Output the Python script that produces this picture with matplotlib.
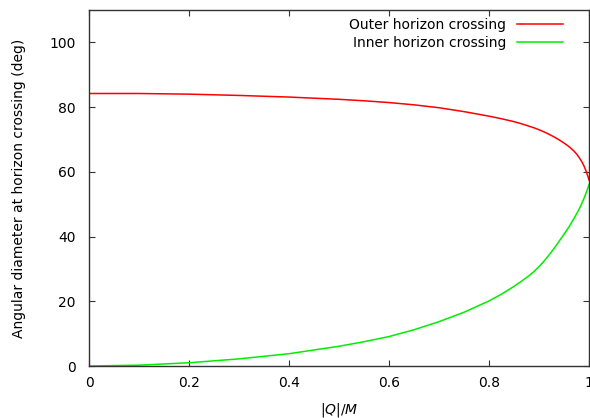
import matplotlib
matplotlib.use('Agg')
import matplotlib.pyplot as plt

# Data
q_outer = [0.0, 0.1, 0.2, 0.3, 0.4, 0.5, 0.55, 0.6, 0.65, 0.7, 0.75, 0.8, 0.825,
           0.85, 0.865, 0.88, 0.89, 0.9, 0.91, 0.92, 0.93, 0.94, 0.95, 0.96,
           0.97, 0.975, 0.98, 0.985, 0.99, 0.995, 0.998, 1.0]
deg_outer = [84.2, 84.2, 84.0, 83.6, 83.1, 82.4, 81.95, 81.4, 80.7, 79.8, 78.6, 77.2, 76.4,
             75.5, 74.85, 74.1, 73.6, 73.0, 72.35, 71.6, 70.8, 69.9, 68.9, 67.8,
             66.4, 65.55, 64.5, 63.3, 61.8, 59.9, 58.5, 57.5]

q_inner = [0.0, 0.1, 0.2, 0.3, 0.4, 0.5, 0.55, 0.6, 0.65, 0.7, 0.75, 0.8, 0.825,
           0.85, 0.865, 0.88, 0.89, 0.9, 0.91, 0.92, 0.93, 0.94, 0.95, 0.96,
           0.97, 0.975, 0.98, 0.985, 0.99, 0.995, 0.998, 1.0]
deg_inner = [0.0, 0.25, 1.0, 2.2, 3.8, 6.1, 7.5, 9.1, 11.2, 13.7, 16.6, 20.1, 22.2,
             24.6, 26.2, 27.9, 29.2, 30.7, 32.4, 34.3, 36.3, 38.5, 40.7, 43.0,
             45.6, 47.0, 48.4, 50.0, 51.8, 53.8, 55.1, 56.0]

x_ticks = [0, 0.2, 0.4, 0.6, 0.8, 1]
x_ticklabels = ['0', '0.2', '0.4', '0.6', '0.8', '1']
y_ticks = [0, 20, 40, 60, 80, 100]

plt.rcParams.update({
    'font.family': 'DejaVu Sans',
    'font.size': 10,
    'mathtext.fontset': 'custom',
    'mathtext.rm': 'DejaVu Sans',
    'mathtext.it': 'DejaVu Sans:italic',
})

fig = plt.figure(figsize=(5.9, 4.18), dpi=100)
ax = fig.add_axes([89 / 590, 1 - 366 / 418, 500 / 590, 356 / 418])

ax.plot(q_outer, deg_outer, color='#ff0000', linewidth=1.1, label='Outer horizon crossing')
ax.plot(q_inner, deg_inner, color='#00ee00', linewidth=1.1, label='Inner horizon crossing')

ax.set_xlim(0, 1)
ax.set_ylim(0, 110)
ax.set_xticks(x_ticks)
ax.set_xticklabels(x_ticklabels)
ax.set_yticks(y_ticks)
ax.tick_params(direction='in', length=4.5, width=0.8, top=True, right=True,
               labelsize=10, color='#333333')
ax.tick_params(axis='x', pad=7)
ax.tick_params(axis='y', pad=9.5)
for s in ax.spines.values():
    s.set_linewidth(1.0)
    s.set_color('#333333')

ax.set_xlabel(r'$|Q|/M$', fontsize=10, labelpad=8)
ax.set_ylabel('Angular diameter at horizon crossing (deg)', fontsize=10, labelpad=17)

ax.legend(loc='upper right', frameon=False, markerfirst=False, fontsize=10,
          handlelength=3.3, handletextpad=0.8, labelspacing=0.25,
          borderaxespad=0.2, bbox_to_anchor=(0.965, 1.0))

fig.savefig('out.png', dpi=100)
